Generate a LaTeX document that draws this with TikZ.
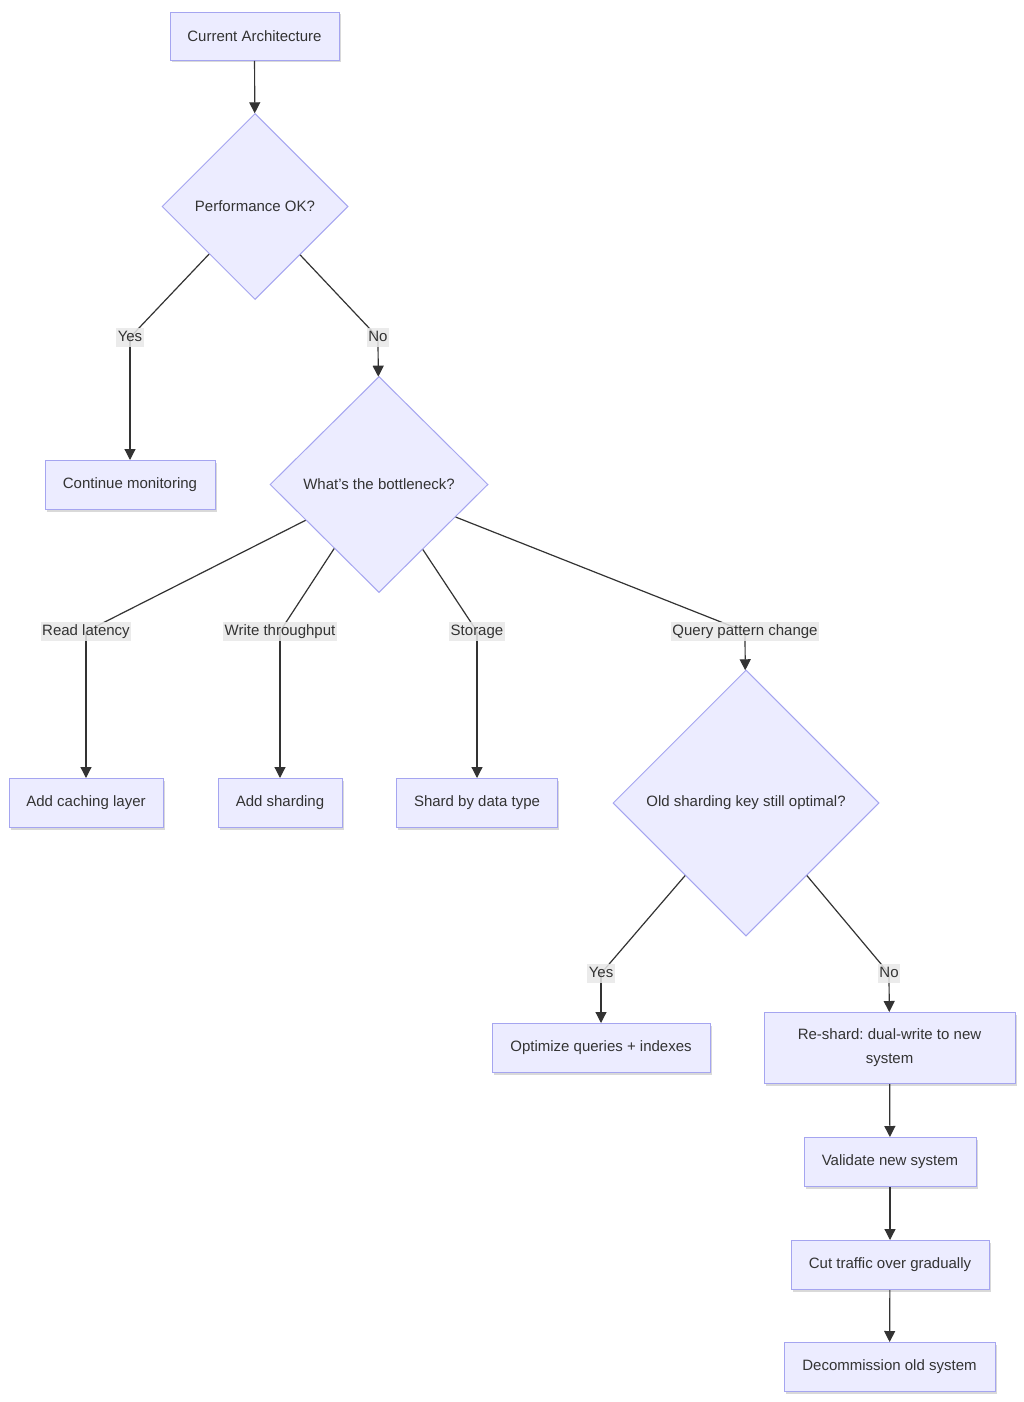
\documentclass[tikz,border=0pt]{standalone}
\usepackage{fontspec}
\setmainfont{Liberation Sans}
\usetikzlibrary{shapes.geometric,arrows.meta,shadows}
\definecolor{nodefill}{HTML}{ECECFF}
\definecolor{nodestroke}{RGB}{165,165,240}
\definecolor{edgecol}{HTML}{333333}
\definecolor{lblbg}{HTML}{E8E8E8}
\frenchspacing
\begin{document}
\begin{tikzpicture}[x=1pt,y=-1pt,
  every node/.style={font=\fontsize{15}{24}\selectfont, text=edgecol},
  box/.style={rectangle, draw=nodestroke, fill=nodefill, line width=1pt, inner sep=2pt,
    minimum height=49pt, align=center,
    drop shadow={shadow xshift=1.5pt, shadow yshift=-2pt, opacity=0.15, fill=black}},
  dia/.style={diamond, aspect=1, draw=nodestroke, fill=nodefill, line width=1pt, inner sep=0pt, align=center},
  lbl/.style={fill=lblbg, fill opacity=0.85, text opacity=1, inner xsep=1.5pt, inner ysep=0pt,
    text height=13.5pt, text depth=5.5pt},
  edge/.style={draw=edgecol, line width=1.2pt, -{Triangle[length=11pt,width=11pt]}},
  seg/.style={draw=edgecol, line width=1.2pt}]
\useasboundingbox (0,0) rectangle (1024,1402);
\fill[white] (0,0) rectangle (1024,1402);

% nodes
\node[box, minimum width=169pt, minimum height=48pt] (ca) at (254.5,36.5) {Current Architecture};
\node[dia, minimum size=186pt] (perf) at (255,206.5) {Performance OK?};
\node[box, minimum width=170pt] (cm) at (130,485) {Continue monitoring};
\node[dia, minimum width=218pt, minimum height=216pt] (bott) at (379,484.5) {What{\char39}s the bottleneck?};
\node[box, minimum width=154pt] (cache) at (86,803) {Add caching layer};
\node[box, minimum width=124pt] (shard) at (280,803) {Add sharding};
\node[box, minimum width=161pt] (sdt) at (477,803) {Shard by data type};
\node[dia, minimum size=266pt] (old) at (746,803) {Old sharding key still optimal?};
\node[box, minimum width=218pt] (opt) at (601,1048) {Optimize queries + indexes};
\node[box, minimum width=251pt, minimum height=71pt] (resh) at (889.5,1048) {Re-shard: dual-write to new\\system};
\node[box, minimum width=172pt] (val) at (890,1162) {Validate new system};
\node[box, minimum width=198pt] (cut) at (890,1265) {Cut traffic over gradually};
\node[box, minimum width=211pt] (dec) at (889.5,1367) {Decommission old system};

% label positions
\coordinate (lyes1) at (130,337.5);
\coordinate (lno1) at (378,337.5);
\coordinate (lread) at (86,631.5);
\coordinate (lwrite) at (280,631.5);
\coordinate (lstor) at (477,631.5);
\coordinate (lquery) at (745,631.5);
\coordinate (lyes2) at (601,973.5);
\coordinate (lno2) at (889,973.5);

% edges
\draw[edge] (ca) -- (perf);
\draw[seg] (perf.226) -- (lyes1);
\draw[edge] (lyes1) -- (cm);
\draw[seg] (perf.313) -- (lno1);
\draw[edge] (lno1) -- (bott);
\draw[seg] (bott.206.6) -- (lread);
\draw[edge] (lread) -- (cache);
\draw[seg] (bott.235) -- (lwrite);
\draw[edge] (lwrite) -- (shard);
\draw[seg] (bott.304) -- (lstor);
\draw[edge] (lstor) -- (sdt);
\draw[seg] (bott.337) -- (lquery);
\draw[edge] (lquery) -- (old);
\draw[seg] (old.230) -- (lyes2);
\draw[edge] (lyes2) -- (opt);
\draw[seg] (old.310) -- (lno2);
\draw[edge] (lno2) -- (resh);
\draw[edge] (resh) -- (val);
\draw[edge] (val) -- (cut);
\draw[edge] (cut) -- (dec);

% edge labels
\node[lbl] (tyes1) at (lyes1) {Yes};
\node[lbl] (tno1) at (lno1) {No};
\node[lbl] (tread) at (lread) {Read latency};
\node[lbl] (twrite) at (lwrite) {Write throughput};
\node[lbl] (tstor) at (lstor) {Storage};
\node[lbl] (tquery) at (lquery) {Query pattern change};
\node[lbl] (tyes2) at (lyes2) {Yes};
\node[lbl] (tno2) at (lno2) {No};
\end{tikzpicture}
\end{document}
